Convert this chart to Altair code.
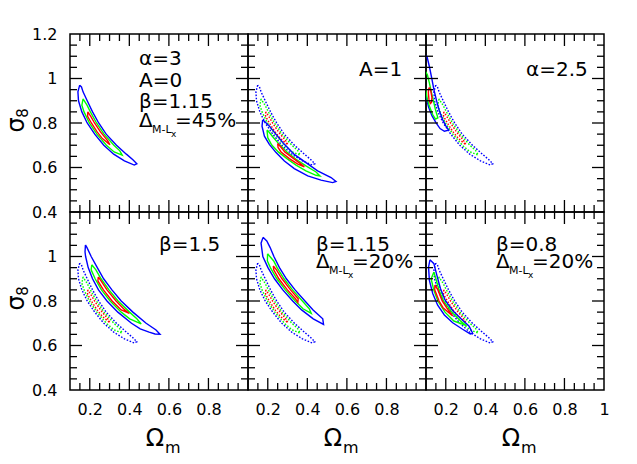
import altair as alt
import pandas as pd

# ---------------- axis ranges and ticks ----------------
X_DOMAIN = [0.1, 1.0]
Y_DOMAIN = [0.4, 1.2]
X_MAJOR = [0.2, 0.4, 0.6, 0.8]
X_MINOR = [0.15, 0.25, 0.3, 0.35, 0.45, 0.5, 0.55, 0.65, 0.7, 0.75, 0.85, 0.9, 0.95]
Y_MAJOR = [0.6, 0.8, 1.0]
Y_MINOR = [0.45, 0.5, 0.55, 0.65, 0.7, 0.75, 0.85, 0.9, 0.95, 1.05, 1.1, 1.15]
X_LABELS = [0.2, 0.4, 0.6, 0.8]
X_LABELS_LAST = [0.2, 0.4, 0.6, 0.8, 1.0]
Y_LABELS_TOP = [0.4, 0.6, 0.8, 1.0, 1.2]
Y_LABELS_BOTTOM = [0.4, 0.6, 0.8, 1.0]

# ---------------- contours (Omega_m, sigma_8) ----------------
# fiducial model: solid in panel 1, dotted in the other panels
REF_BLUE = [(0.149, 0.970), (0.140, 0.940), (0.143, 0.900), (0.160, 0.850), (0.187, 0.800),
            (0.225, 0.750), (0.271, 0.700), (0.321, 0.660), (0.375, 0.630), (0.425, 0.611),
            (0.438, 0.617), (0.418, 0.635), (0.385, 0.660), (0.335, 0.700), (0.283, 0.750),
            (0.245, 0.800), (0.214, 0.850), (0.187, 0.900), (0.166, 0.940), (0.158, 0.962)]
REF_GREEN = [(0.166, 0.908), (0.160, 0.880), (0.171, 0.850), (0.198, 0.800), (0.236, 0.750),
             (0.284, 0.700), (0.323, 0.670), (0.364, 0.656), (0.352, 0.675), (0.322, 0.700),
             (0.272, 0.750), (0.234, 0.800), (0.203, 0.850), (0.186, 0.880)]
REF_RED = [(0.190, 0.850), (0.189, 0.830), (0.208, 0.800), (0.237, 0.760), (0.264, 0.730),
           (0.302, 0.702), (0.291, 0.720), (0.254, 0.760), (0.224, 0.800), (0.205, 0.830)]

# panel 2: A=1
P2_BLUE = [(0.174, 0.813), (0.171, 0.786), (0.183, 0.741), (0.208, 0.704), (0.242, 0.667),
           (0.284, 0.629), (0.334, 0.595), (0.402, 0.562), (0.469, 0.543), (0.528, 0.532),
           (0.545, 0.537), (0.520, 0.555), (0.452, 0.585), (0.393, 0.622), (0.334, 0.659),
           (0.284, 0.704), (0.242, 0.749), (0.208, 0.786), (0.183, 0.808)]
P2_GREEN = [(0.196, 0.768), (0.200, 0.734), (0.220, 0.701), (0.253, 0.670), (0.297, 0.640),
            (0.343, 0.611), (0.393, 0.585), (0.444, 0.565), (0.464, 0.562), (0.444, 0.580),
            (0.393, 0.607), (0.343, 0.637), (0.297, 0.670), (0.258, 0.704), (0.225, 0.738),
            (0.203, 0.763)]
P2_RED = [(0.250, 0.708), (0.252, 0.690), (0.267, 0.670), (0.309, 0.640), (0.352, 0.615),
          (0.385, 0.603), (0.368, 0.615), (0.331, 0.640), (0.286, 0.670), (0.268, 0.690)]

# panel 3: alpha=2.5
P3_BLUE = [(0.087, 1.106), (0.105, 1.099), (0.117, 1.054), (0.129, 1.002), (0.140, 0.950),
           (0.154, 0.898), (0.167, 0.856), (0.184, 0.816), (0.201, 0.786), (0.215, 0.768),
           (0.193, 0.763), (0.171, 0.775), (0.151, 0.801), (0.130, 0.833), (0.113, 0.872),
           (0.100, 0.920), (0.087, 0.980), (0.080, 1.054)]
P3_GREEN = [(0.092, 1.039), (0.107, 1.017), (0.117, 0.980), (0.128, 0.935), (0.138, 0.898),
            (0.147, 0.863), (0.155, 0.838), (0.160, 0.823), (0.148, 0.818), (0.134, 0.838),
            (0.120, 0.868), (0.107, 0.905), (0.100, 0.942), (0.090, 0.987)]
P3_RED = [(0.118, 0.960), (0.124, 0.945), (0.130, 0.915), (0.128, 0.893), (0.122, 0.888),
          (0.115, 0.905), (0.112, 0.935), (0.113, 0.952)]

# panel 4: beta=1.5
P4_BLUE = [(0.178, 1.052), (0.176, 1.020), (0.179, 1.000), (0.192, 0.950), (0.214, 0.900),
           (0.244, 0.850), (0.287, 0.800), (0.342, 0.750), (0.411, 0.700), (0.455, 0.675),
           (0.500, 0.660), (0.530, 0.652), (0.555, 0.651), (0.535, 0.670), (0.485, 0.700),
           (0.418, 0.750), (0.359, 0.800), (0.312, 0.850), (0.270, 0.900), (0.238, 0.950),
           (0.207, 1.000), (0.186, 1.040)]
P4_GREEN = [(0.210, 0.963), (0.207, 0.940), (0.227, 0.900), (0.259, 0.850), (0.303, 0.800),
            (0.359, 0.750), (0.402, 0.720), (0.460, 0.697), (0.438, 0.720), (0.401, 0.750),
            (0.343, 0.800), (0.297, 0.850), (0.257, 0.900), (0.231, 0.940)]
P4_RED = [(0.243, 0.908), (0.241, 0.890), (0.269, 0.850), (0.313, 0.800), (0.359, 0.760),
          (0.400, 0.744), (0.377, 0.760), (0.333, 0.800), (0.287, 0.850), (0.257, 0.890)]

# panel 5: beta=1.15, Delta=20%
P5_BLUE = [(0.176, 1.086), (0.166, 1.060), (0.175, 1.000), (0.201, 0.950), (0.234, 0.900),
           (0.276, 0.850), (0.326, 0.800), (0.371, 0.760), (0.430, 0.720), (0.482, 0.695),
           (0.478, 0.720), (0.429, 0.760), (0.388, 0.800), (0.338, 0.850), (0.294, 0.900),
           (0.259, 0.950), (0.231, 1.000), (0.212, 1.040), (0.195, 1.070)]
P5_GREEN = [(0.199, 1.012), (0.198, 0.980), (0.213, 0.950), (0.246, 0.900), (0.289, 0.850),
            (0.339, 0.800), (0.378, 0.765), (0.420, 0.744), (0.410, 0.765), (0.375, 0.800),
            (0.325, 0.850), (0.282, 0.900), (0.247, 0.950), (0.230, 0.980)]
P5_RED = [(0.228, 0.958), (0.230, 0.940), (0.256, 0.900), (0.299, 0.850), (0.340, 0.810),
          (0.352, 0.794), (0.354, 0.810), (0.315, 0.850), (0.272, 0.900), (0.244, 0.940)]

# panel 6: beta=0.8, Delta=20%
P6_BLUE = [(0.120, 0.985), (0.113, 0.953), (0.117, 0.893), (0.134, 0.834), (0.159, 0.781),
           (0.193, 0.737), (0.235, 0.702), (0.285, 0.673), (0.324, 0.652), (0.336, 0.655),
           (0.318, 0.687), (0.277, 0.720), (0.236, 0.756), (0.198, 0.801), (0.173, 0.856),
           (0.155, 0.915), (0.140, 0.968)]
P6_GREEN = [(0.140, 0.930), (0.126, 0.900), (0.139, 0.850), (0.160, 0.800), (0.196, 0.750),
            (0.241, 0.710), (0.305, 0.689), (0.275, 0.710), (0.230, 0.750), (0.188, 0.800),
            (0.165, 0.850), (0.150, 0.900)]
P6_RED = [(0.145, 0.872), (0.144, 0.850), (0.166, 0.800), (0.186, 0.770), (0.235, 0.733),
          (0.204, 0.770), (0.182, 0.800), (0.160, 0.850)]

LEVELS = ["3sigma", "2sigma", "1sigma"]
LEVEL_COLORS = ["#0000ff", "#00ff00", "#ff0000"]


def rows(points, panel, level, style):
    closed = list(points) + [points[0]]
    return [{"panel": panel, "level": level, "style": style, "order": i, "x": px, "y": py}
            for i, (px, py) in enumerate(closed)]


REF = {"3sigma": REF_BLUE, "2sigma": REF_GREEN, "1sigma": REF_RED}
SOLIDS = {
    1: REF,
    2: {"3sigma": P2_BLUE, "2sigma": P2_GREEN, "1sigma": P2_RED},
    3: {"3sigma": P3_BLUE, "2sigma": P3_GREEN, "1sigma": P3_RED},
    4: {"3sigma": P4_BLUE, "2sigma": P4_GREEN, "1sigma": P4_RED},
    5: {"3sigma": P5_BLUE, "2sigma": P5_GREEN, "1sigma": P5_RED},
    6: {"3sigma": P6_BLUE, "2sigma": P6_GREEN, "1sigma": P6_RED},
}
records = []
for p in range(1, 7):
    if p > 1:
        for lev, pts in REF.items():
            records += rows(pts, p, lev, "dotted")
    for lev, pts in SOLIDS[p].items():
        records += rows(pts, p, lev, "solid")
df = pd.DataFrame(records)

W, H = 178, 178
FONT = "DejaVu Sans"
XS = alt.Scale(domain=X_DOMAIN, nice=False, zero=False)
YS = alt.Scale(domain=Y_DOMAIN, nice=False, zero=False)
COLOR = alt.Color("level:N", scale=alt.Scale(domain=LEVELS, range=LEVEL_COLORS), legend=None)
MAJ, MINL = 12, 7


def make_axis(vals, orient):
    if not vals:
        return None
    return alt.Axis(values=vals, format="~g", ticks=False, tickSize=0, domain=False, grid=False,
                    labelFont=FONT, labelFontSize=16, labelColor="black",
                    labelPadding=11 if orient == "x" else 13,
                    labelFlush=False, labelOverlap=False, title=None)


def tick_layers(xa, ya):
    layers = []
    for vals, L in ((X_MAJOR, MAJ), (X_MINOR, MINL)):
        base = alt.Chart(pd.DataFrame({"v": vals})).mark_rule(color="black", strokeWidth=1.3)
        xe = alt.X("v:Q", scale=XS, axis=xa)
        layers.append(base.encode(x=xe, y=alt.value(H), y2=alt.value(H - L)))
        layers.append(base.encode(x=xe, y=alt.value(0), y2=alt.value(L)))
    for vals, L in ((Y_MAJOR, MAJ), (Y_MINOR, MINL)):
        base = alt.Chart(pd.DataFrame({"v": vals})).mark_rule(color="black", strokeWidth=1.3)
        ye = alt.Y("v:Q", scale=YS, axis=ya)
        layers.append(base.encode(y=ye, x=alt.value(0), x2=alt.value(L)))
        layers.append(base.encode(y=ye, x=alt.value(W), x2=alt.value(W - L)))
    return layers


def label(s, x, y, size, align="left", baseline="alphabetic", angle=0):
    return alt.Chart(alt.Data(values=[{}])).mark_text(
        text=s, font=FONT, fontSize=size, align=align, baseline=baseline, angle=angle,
        color="black").encode(x=alt.value(x), y=alt.value(y))


def delta(x, y, rest):
    return [label("Δ", x, y, 20), label("M-L", x + 13, y + 6, 11),
            label("x", x + 32, y + 10, 9), label(rest, x + 36, y, 20)]


def omega():
    return [label("Ω", W / 2 - 4, H + 56, 24, align="center"),
            label("m", W / 2 + 6, H + 63, 16)]


def sigma():
    return [label("σ", -53, H / 2 + 2, 24, align="center", baseline="middle", angle=270),
            label("8", -47, H / 2 - 10, 15, align="center", baseline="middle", angle=270)]


def panel(p, xvals, yvals, texts):
    sub = df[df["panel"] == p]
    xa = make_axis(xvals, "x")
    ya = make_axis(yvals, "y")
    layers = []
    dotted = sub[sub["style"] == "dotted"]
    if len(dotted):
        layers.append(alt.Chart(dotted).mark_line(strokeWidth=1.4, strokeDash=[1.6, 1.6], clip=True).encode(
            x=alt.X("x:Q", scale=XS, axis=xa), y=alt.Y("y:Q", scale=YS, axis=ya),
            color=COLOR, detail="level:N", order="order:Q"))
    layers.append(alt.Chart(sub[sub["style"] == "solid"]).mark_line(strokeWidth=1.4, clip=True).encode(
        x=alt.X("x:Q", scale=XS, axis=xa), y=alt.Y("y:Q", scale=YS, axis=ya),
        color=COLOR, detail="level:N", order="order:Q"))
    layers += tick_layers(xa, ya)
    layers += texts
    return alt.layer(*layers).properties(width=W, height=H)


p1 = panel(1, None, Y_LABELS_TOP,
           [label("α=3", 69, 31, 20), label("A=0", 69, 53, 20), label("β=1.15", 69, 74, 20)]
           + delta(69, 93, "=45%") + sigma())
p2 = panel(2, None, None, [label("A=1", 111, 42, 20)])
p3 = panel(3, None, None, [label("α=2.5", 100, 42, 20)])
p4 = panel(4, X_LABELS, Y_LABELS_BOTTOM, [label("β=1.5", 89, 39, 20)] + sigma() + omega())
p5 = panel(5, X_LABELS, None, [label("β=1.15", 68, 39, 20)] + delta(68, 56, "=20%") + omega())
p6 = panel(6, X_LABELS_LAST, None, [label("β=0.8", 70, 39, 20)] + delta(70, 56, "=20%") + omega())

chart = alt.concat(p1, p2, p3, p4, p5, p6, columns=3, spacing=0, bounds="flush").configure_view(
    stroke="black", strokeWidth=1.5).properties(
    padding={"left": -4, "top": 17, "right": 0, "bottom": 0}, background="white")

chart.save("out.html", embed_options={"renderer": "svg", "actions": False})
